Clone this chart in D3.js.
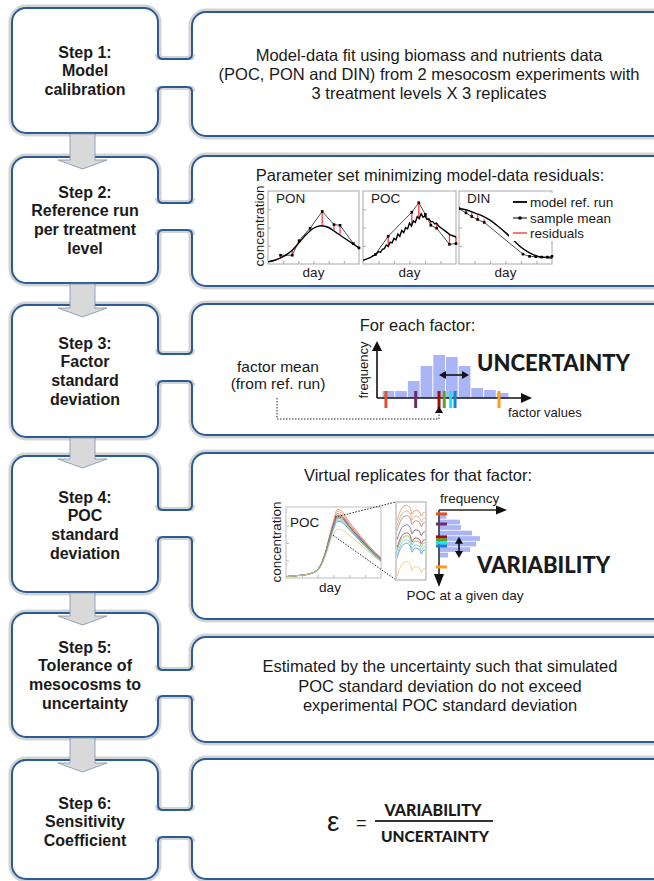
<!DOCTYPE html>
<html>
<head>
<meta charset="utf-8">
<script src="https://cdn.jsdelivr.net/npm/d3@7/dist/d3.min.js"></script>
<style>
  html, body { margin: 0; padding: 0; background: #fff; }
  svg { display: block; }
  text { font-family: "Liberation Sans", Arial, sans-serif; fill: #1a1a1a; }
  .heavy { font-family: Lato, "Open Sans", sans-serif; font-weight: 900; }
</style>
</head>
<body>
<svg id="chart" width="654" height="881"></svg>
<script>
// ---------- text content ----------
const stepLabels = [
  ["Step 1:", "Model", "calibration"],
  ["Step 2:", "Reference run", "per treatment", "level"],
  ["Step 3:", "Factor", "standard", "deviation"],
  ["Step 4:", "POC", "standard", "deviation"],
  ["Step 5:", "Tolerance of", "mesocosms to", "uncertainty"],
  ["Step 6:", "Sensitivity", "Coefficient"]
];
const calibrationLines = [
  "Model-data fit using biomass and nutrients data",
  "(POC, PON and DIN) from 2 mesocosm experiments with",
  "3 treatment levels X 3 replicates"
];
const fitTitle = "Parameter set minimizing model-data residuals:";
const factorTitle = "For each factor:";
const factorMeanLines = ["factor mean", "(from ref. run)"];
const replicateTitle = "Virtual replicates for that factor:";
const toleranceLines = [
  "Estimated by the uncertainty such that simulated",
  "POC standard deviation do not exceed",
  "experimental POC standard deviation"
];
const legendItems = ["model ref. run", "sample mean", "residuals"];

// ---------- step 2: reference run vs. sample means ----------
const fitDays = [0, 2, 4, 6, 8, 10, 12, 14, 16, 18, 20, 22, 24];
const ponModel = [0.3, 0.55, 1.0, 1.7, 2.8, 4.0, 4.9, 5.25, 5.0, 4.3, 3.6, 2.9, 2.2];
const dinModel = [7.6, 7.4, 7.0, 6.6, 6.0, 5.2, 4.3, 3.3, 2.3, 1.6, 1.1, 0.9, 0.8];
// POC reference run, every half day from day 0 to day 24
const pocModel = [0.5, 0.6, 0.7, 0.8, 0.9, 1.1, 1.2, 1.4, 1.7, 1.6,
  2.0, 2.1, 2.6, 2.4, 3.0, 2.9, 3.5, 3.3, 4.1, 3.8,
  4.6, 4.3, 5.0, 4.8, 5.6, 5.2, 5.9, 5.7, 6.5, 6.2,
  6.9, 6.4, 6.6, 6.1, 6.2, 5.8, 5.8, 5.5, 5.6, 5.2,
  5.0, 4.8, 4.6, 4.4, 4.2, 4.0, 3.9, 3.8, 3.7];

const ponSampleDays = [3.3, 6.4, 8.2, 11.1, 14.3, 17.4, 19.0, 22.5, 24];
const ponSampleMean = [1.2, 1.2, 3.2, 4.9, 7.2, 5.4, 5.3, 2.8, 2.2];
const ponModelAtSample = [0.8, 1.85, 2.9, 4.5, 5.25, 4.7, 4.0, 2.75, 2.2];

const pocSampleDays = [3.2, 6.5, 12.6, 14.4, 16.1, 17.5, 19.0, 22.3, 24];
const pocSampleMean = [1.3, 3.8, 7.1, 8.4, 6.8, 5.3, 4.9, 2.7, 2.8];
const pocModelAtSample = [1.3, 2.35, 5.4, 6.3, 6.5, 5.8, 5.6, 4.1, 3.7];

const dinSampleDays = [0, 1.8, 3.3, 4.8, 6.5, 16.5, 18.2, 19.8, 21.3, 22.8, 24];
const dinSampleMean = [7.6, 7.0, 6.5, 6.1, 5.7, 1.35, 1.05, 1.0, 0.95, 0.95, 1.05];
const dinModelAtSample = [7.6, 7.4, 7.1, 6.7, 6.1, 1.5, 1.05, 0.92, 0.86, 0.82, 0.8];

// ---------- step 3: factor distribution ----------
const factorBinEdges = [0, 1, 2, 3, 4, 5, 6, 7, 8, 9, 10];
const factorBinCounts = [7, 7, 17, 32, 43, 41, 32, 10, 8, 5];
const factorValues = [0.31, 2.65, 4.49, 4.90, 5.41, 5.75, 9.21];
const factorColors = ["#e0522c", "#6c2f63", "#a30d12", "#5b9f24", "#16e0ee", "#1c7fcf", "#ff9c1c"];
const factorMean = 4.49;
const factorSpread = [4.49, 6.85];

// ---------- step 4: virtual replicates ----------
const replicateDays = [0, 2, 4, 6, 8, 10, 11, 12, 13, 14, 16, 18, 20, 22, 24];
const replicateSeries = [
  [0.2, 0.3, 0.4, 0.6, 1.2, 3.8, 6.0, 8.2, 9.8, 9.6, 8.0, 6.6, 5.2, 4.0, 2.9],
  [0.2, 0.3, 0.4, 0.6, 1.2, 3.7, 5.9, 8.0, 9.5, 9.3, 7.8, 6.4, 5.1, 3.9, 2.8],
  [0.2, 0.3, 0.4, 0.6, 1.2, 3.7, 5.8, 7.8, 9.2, 9.0, 7.6, 6.3, 5.0, 3.8, 2.8],
  [0.2, 0.3, 0.4, 0.6, 1.2, 3.6, 5.7, 7.6, 8.9, 8.8, 7.4, 6.1, 4.9, 3.7, 2.7],
  [0.2, 0.3, 0.4, 0.6, 1.2, 3.6, 5.6, 7.5, 8.7, 8.6, 7.3, 6.0, 4.8, 3.6, 2.6],
  [0.2, 0.3, 0.4, 0.6, 1.2, 3.5, 5.5, 7.4, 8.5, 8.4, 7.2, 5.9, 4.7, 3.6, 2.6],
  [0.2, 0.3, 0.4, 0.6, 1.1, 3.5, 5.4, 7.2, 8.3, 8.2, 7.0, 5.8, 4.6, 3.5, 2.5],
  [0.2, 0.3, 0.4, 0.6, 1.1, 3.4, 5.3, 7.0, 8.1, 8.0, 6.9, 5.7, 4.5, 3.4, 2.4],
  [0.2, 0.3, 0.4, 0.6, 1.1, 3.2, 4.9, 6.3, 7.0, 6.9, 6.1, 5.2, 4.2, 3.2, 2.3]
];
const replicateColors = ["#e58a68", "#dfa582", "#b87d6c", "#7d4a78", "#a8323e",
  "#86b84e", "#5cc9e0", "#4f94d2", "#f3c36b"];
// close-up around the POC peak (position across the window, 0 to 1)
const zoomPositions = [0, 0.1, 0.22, 0.38, 0.47, 0.54, 0.60, 0.70, 0.80, 0.87, 0.93, 1.0];
const zoomSeries = [
  [9.20, 9.55, 9.79, 9.85, 9.73, 9.46, 9.60, 9.63, 9.57, 9.38, 9.52, 9.56],
  [8.95, 9.30, 9.54, 9.60, 9.48, 9.21, 9.35, 9.38, 9.32, 9.13, 9.27, 9.31],
  [8.75, 9.10, 9.34, 9.40, 9.28, 9.01, 9.15, 9.18, 9.12, 8.93, 9.07, 9.11],
  [8.35, 8.70, 8.94, 9.00, 8.88, 8.61, 8.75, 8.78, 8.72, 8.53, 8.67, 8.71],
  [8.00, 8.35, 8.59, 8.65, 8.53, 8.26, 8.40, 8.43, 8.37, 8.18, 8.32, 8.36],
  [7.87, 8.22, 8.46, 8.52, 8.40, 8.13, 8.27, 8.30, 8.24, 8.05, 8.19, 8.23],
  [7.70, 8.05, 8.29, 8.35, 8.23, 7.96, 8.10, 8.13, 8.07, 7.88, 8.02, 8.06],
  [7.55, 7.90, 8.14, 8.20, 8.08, 7.81, 7.95, 7.98, 7.92, 7.73, 7.87, 7.91],
  [6.75, 7.10, 7.34, 7.40, 7.28, 7.01, 7.15, 7.18, 7.12, 6.93, 7.07, 7.11]
];
const zoomWindow = [[12.4, 8.7], [11.9, 6.1]];   // (day, POC) where the close-up is taken
const pocAtDay = [9.48, 9.04, 8.48, 8.35, 8.22, 8.08, 7.17];
const pocBinEdges = [9.47, 9.23, 8.99, 8.75, 8.51, 8.27, 8.03, 7.79, 7.55];
const pocBinCounts = [7, 21, 22, 33, 41, 37, 31, 9];
const pocSpread = [8.48, 7.56];

// ---------- layout ----------
const BLUE = "#2a5b97", HALO = "#d3d3d3", BAR = "#aab5f5", FRAME = "#a8a8a8";
const L = {
  leftX: [12, 158], rightX: [192, 668],
  leftY: [[8, 133], [157, 283], [305, 437], [456, 592], [613, 737], [760, 879]],
  rightY: [[12, 136], [156, 286], [304, 435], [453, 619], [637, 742], [759, 879]],
  linkY: [[59, 87], [203, 230], [354, 381], [510, 537], [670, 696], [810, 837]],
  labelTop: [52, 192, 343, 497, 647, 803],
  lineGap: 18.8
};

const svg = d3.select("#chart");
const gBoxes = svg.append("g");

function roundBox(x0, y0, x1, y1, r) {
  gBoxes.append("rect").attr("x", x0 - 1.5).attr("y", y0 - 1.5)
    .attr("width", x1 - x0 + 3).attr("height", y1 - y0 + 3).attr("rx", r + 1.5)
    .attr("fill", "none").attr("stroke", HALO).attr("stroke-width", 4);
  gBoxes.append("rect").attr("x", x0).attr("y", y0)
    .attr("width", x1 - x0).attr("height", y1 - y0).attr("rx", r)
    .attr("fill", "#fff").attr("stroke", BLUE).attr("stroke-width", 2);
}
L.leftY.forEach(([a, b]) => roundBox(L.leftX[0], a, L.leftX[1], b, 14));
L.rightY.forEach(([a, b]) => roundBox(L.rightX[0], a, L.rightX[1], b, 14));

// joints between step box and its description box
L.linkY.forEach(([a, b]) => {
  const lx = L.leftX[1], rx = L.rightX[0], r = 5;
  const top = `M${lx},${a - r}Q${lx},${a} ${lx + r},${a}H${rx - r}Q${rx},${a} ${rx},${a - r}`;
  const bot = `M${lx},${b + r}Q${lx},${b} ${lx + r},${b}H${rx - r}Q${rx},${b} ${rx},${b + r}`;
  [top, bot].forEach(d => gBoxes.append("path").attr("d", d).attr("fill", "none")
    .attr("stroke", HALO).attr("stroke-width", 6));
  gBoxes.append("rect").attr("x", lx - 2).attr("y", a + 1)
    .attr("width", rx - lx + 4).attr("height", b - a - 2).attr("fill", "#fff");
  [top, bot].forEach(d => gBoxes.append("path").attr("d", d).attr("fill", "none")
    .attr("stroke", BLUE).attr("stroke-width", 2));
});

// block arrows between consecutive steps
for (let i = 0; i < L.leftY.length - 1; i++) {
  const y0 = L.leftY[i][1] + 1, nextTop = L.leftY[i + 1][0];
  const base = nextTop + 3, tip = nextTop + 12;
  const pts = [[70, y0], [95, y0], [95, base], [107, base], [82.5, tip], [58, base], [70, base]];
  gBoxes.append("path").attr("d", d3.line()(pts) + "Z")
    .attr("fill", "#d9d9d9").attr("stroke", "#7d8fa8").attr("stroke-width", 0.8);
}

// step labels
stepLabels.forEach((lines, i) => {
  const t = svg.append("text").attr("text-anchor", "middle")
    .attr("font-weight", "bold").attr("font-size", 16);
  lines.forEach((s, j) => t.append("tspan").attr("x", 85)
    .attr("y", L.labelTop[i] + j * L.lineGap + 5.6).text(s));
});

function textLines(lines, cx, cy0, gap, size, anchor) {
  const t = svg.append("text").attr("text-anchor", anchor || "middle").attr("font-size", size);
  lines.forEach((s, j) => t.append("tspan").attr("x", cx)
    .attr("y", cy0 + j * gap + size * 0.35).text(s));
  return t;
}

function triangle(tip, dir, len, half) {
  const [x, y] = tip;
  let pts;
  if (dir === "up") pts = [[x, y], [x - half, y + len], [x + half, y + len]];
  if (dir === "down") pts = [[x, y], [x - half, y - len], [x + half, y - len]];
  if (dir === "right") pts = [[x, y], [x - len, y - half], [x - len, y + half]];
  if (dir === "left") pts = [[x, y], [x + len, y - half], [x + len, y + half]];
  svg.append("path").attr("d", d3.line()(pts) + "Z").attr("fill", "#111");
}

// ---------- step 1 ----------
textLines(calibrationLines, 429, 55, 19, 16.5);

// ---------- step 2 ----------
textLines([fitTitle], 430, 175, 0, 16.5);

const pocHalfDays = d3.range(0, 24.001, 0.5);
const panels = [
  { label: "PON", x0: 268, x1: 359, days: fitDays, model: ponModel, curve: d3.curveMonotoneX,
    sd: ponSampleDays, sv: ponSampleMean, sm: ponModelAtSample },
  { label: "POC", x0: 363, x1: 456, days: pocHalfDays, model: pocModel, curve: d3.curveLinear,
    sd: pocSampleDays, sv: pocSampleMean, sm: pocModelAtSample },
  { label: "DIN", x0: 459, x1: 552, days: fitDays, model: dinModel, curve: d3.curveMonotoneX,
    sd: dinSampleDays, sv: dinSampleMean, sm: dinModelAtSample }
];
const pTop = 191, pBot = 264;
panels.forEach((p, k) => {
  const x = d3.scaleLinear().domain([0, 24]).range([p.x0, p.x1]);
  const y = d3.scaleLinear().domain([0, 10]).range([pBot, pTop]);
  const g = svg.append("g");
  g.append("rect").attr("x", p.x0).attr("y", pTop).attr("width", p.x1 - p.x0)
    .attr("height", pBot - pTop).attr("fill", "#fff").attr("stroke", FRAME).attr("stroke-width", 1);
  const ay = g.append("g").attr("transform", `translate(${p.x0},0)`)
    .call(d3.axisLeft(y).tickValues([2.5, 5, 7.5]).tickSize(-3).tickFormat(""));
  const ax = g.append("g").attr("transform", `translate(0,${pBot})`)
    .call(d3.axisBottom(x).tickValues([4, 8, 12, 16, 20]).tickSize(-3).tickFormat(""));
  [ay, ax].forEach(a => { a.select(".domain").remove(); a.selectAll("line").attr("stroke", "#aaa"); });

  const clipId = "clip" + k;
  svg.append("clipPath").attr("id", clipId).append("rect")
    .attr("x", p.x0).attr("y", pTop - 2).attr("width", p.x1 - p.x0 + 6).attr("height", pBot - pTop + 4);
  const gc = g.append("g").attr("clip-path", `url(#${clipId})`);

  gc.selectAll(".res").data(p.sd).join("line")
    .attr("x1", d => x(d)).attr("x2", d => x(d))
    .attr("y1", (d, i) => y(p.sv[i])).attr("y2", (d, i) => y(p.sm[i]))
    .attr("stroke", "#ff3d3d").attr("stroke-width", 1.3);
  gc.append("path").datum(p.model.map((v, i) => [p.days[i], v]))
    .attr("d", d3.line().x(d => x(d[0])).y(d => y(d[1])).curve(p.curve))
    .attr("fill", "none").attr("stroke", "#000").attr("stroke-width", 1.4);
  gc.append("path").datum(p.sv.map((v, i) => [p.sd[i], v]))
    .attr("d", d3.line().x(d => x(d[0])).y(d => y(d[1])))
    .attr("fill", "none").attr("stroke", "#000").attr("stroke-width", 0.7);
  gc.selectAll(".pt").data(p.sv).join("rect")
    .attr("x", (d, i) => x(p.sd[i]) - 1.3).attr("y", d => y(d) - 1.3)
    .attr("width", 2.6).attr("height", 2.6).attr("fill", "#000");

  svg.append("text").attr("x", p.x0 + 8).attr("y", 198 + 13.5 * 0.35)
    .attr("font-size", 13.5).text(p.label);
  svg.append("text").attr("x", (p.x0 + p.x1) / 2).attr("y", 272 + 13.5 * 0.35)
    .attr("text-anchor", "middle").attr("font-size", 13.5).text("day");
});
svg.append("text").attr("transform", "translate(259,226) rotate(-90)")
  .attr("text-anchor", "middle").attr("dy", "0.35em").attr("font-size", 13.5).text("concentration");

// legend
svg.append("rect").attr("x", 509).attr("y", 193).attr("width", 108).attr("height", 48).attr("fill", "#fff");
legendItems.forEach((s, i) => {
  const yy = [202, 218, 233][i];
  const col = i === 2 ? "#ff3d3d" : "#000";
  svg.append("line").attr("x1", 513).attr("x2", 527).attr("y1", yy).attr("y2", yy)
    .attr("stroke", col).attr("stroke-width", i === 0 ? 1.8 : (i === 1 ? 1 : 1.4));
  if (i === 1) svg.append("rect").attr("x", 518.5).attr("y", yy - 1.5).attr("width", 3).attr("height", 3).attr("fill", "#000");
  svg.append("text").attr("x", 530).attr("y", yy + 13.5 * 0.35).attr("font-size", 13.5).text(s);
});

// ---------- step 3 ----------
textLines([factorTitle], 417.5, 325, 0, 16.5);
textLines(factorMeanLines, 278, 367, 17, 15.5);

const fx = d3.scaleLinear().domain([0, 10]).range([382, 509]);
const fy = d3.scaleLinear().domain([0, 50]).range([398, 348]);
svg.append("g").selectAll("rect").data(factorBinCounts).join("rect")
  .attr("x", (d, i) => fx(factorBinEdges[i]) + 0.5)
  .attr("width", (d, i) => fx(factorBinEdges[i + 1]) - fx(factorBinEdges[i]) - 1)
  .attr("y", d => fy(d)).attr("height", d => fy(0) - fy(d)).attr("fill", BAR);
// axes
svg.append("line").attr("x1", 377).attr("x2", 377).attr("y1", fy(0)).attr("y2", 350)
  .attr("stroke", "#111").attr("stroke-width", 1.6);
triangle([377, 341], "up", 10, 5);
svg.append("line").attr("x1", 377).attr("x2", 522).attr("y1", fy(0)).attr("y2", fy(0))
  .attr("stroke", "#111").attr("stroke-width", 1.6);
triangle([532, fy(0)], "right", 11, 5);
svg.append("text").attr("transform", "translate(363,370) rotate(-90)")
  .attr("text-anchor", "middle").attr("dy", "0.35em").attr("font-size", 13).text("frequency");
svg.append("text").attr("x", 508).attr("y", 412 + 13 * 0.35).attr("font-size", 13).text("factor values");
// factor values of the replicates
svg.append("g").selectAll("rect").data(factorValues).join("rect")
  .attr("x", d => fx(d) - 1.5).attr("width", 3).attr("y", 391).attr("height", 17)
  .attr("fill", (d, i) => factorColors[i]);
// factor mean pointer
svg.append("path")
  .attr("d", d3.line()([[277, 398], [277, 419], [fx(factorMean), 419], [fx(factorMean), 413]]))
  .attr("fill", "none").attr("stroke", "#222").attr("stroke-width", 1).attr("stroke-dasharray", "1.5,1.5");
triangle([fx(factorMean), 406], "up", 7, 4);
// uncertainty span
svg.append("line").attr("x1", fx(factorSpread[0]) + 4).attr("x2", fx(factorSpread[1]) - 4)
  .attr("y1", 375).attr("y2", 375).attr("stroke", "#111").attr("stroke-width", 1.6);
triangle([fx(factorSpread[0]), 375], "left", 7, 4);
triangle([fx(factorSpread[1]), 375], "right", 7, 4);
svg.append("text").attr("class", "heavy").attr("x", 477).attr("y", 363 + 22 * 0.36)
  .attr("font-size", 22).text("UNCERTAINTY");

// ---------- step 4 ----------
textLines([replicateTitle], 418, 475, 0, 16.5);

const rxs = d3.scaleLinear().domain([0, 24]).range([286, 381]);
const rys = d3.scaleLinear().domain([0, 10]).range([578, 508]);
svg.append("rect").attr("x", 286).attr("y", 507).attr("width", 95).attr("height", 71)
  .attr("fill", "#fff").attr("stroke", "#bdbdbd").attr("stroke-width", 1);
{
  const ay = svg.append("g").attr("transform", "translate(286,0)")
    .call(d3.axisLeft(rys).tickValues([2.5, 5, 7.5]).tickSize(-3).tickFormat(""));
  const ax = svg.append("g").attr("transform", "translate(0,578)")
    .call(d3.axisBottom(rxs).tickValues([4, 8, 12, 16, 20]).tickSize(-3).tickFormat(""));
  [ay, ax].forEach(a => { a.select(".domain").remove(); a.selectAll("line").attr("stroke", "#bbb"); });
}
svg.append("clipPath").attr("id", "clipRep").append("rect")
  .attr("x", 286).attr("y", 507).attr("width", 95).attr("height", 71);
const gRep = svg.append("g").attr("clip-path", "url(#clipRep)");
replicateSeries.forEach((s, i) => {
  gRep.append("path").datum(s.map((v, j) => [replicateDays[j], v]))
    .attr("d", d3.line().x(d => rxs(d[0])).y(d => rys(d[1])).curve(d3.curveMonotoneX))
    .attr("fill", "none").attr("stroke", replicateColors[i]).attr("stroke-width", 1).attr("opacity", 0.85);
});
svg.append("text").attr("x", 290).attr("y", 522 + 13.5 * 0.35).attr("font-size", 13.5).text("POC");
svg.append("text").attr("x", 330).attr("y", 587 + 13.5 * 0.35).attr("text-anchor", "middle")
  .attr("font-size", 13.5).text("day");
svg.append("text").attr("transform", "translate(276,542) rotate(-90)")
  .attr("text-anchor", "middle").attr("dy", "0.35em").attr("font-size", 13.5).text("concentration");

// close-up window
const zxs = d3.scaleLinear().domain([0, 1]).range([397, 425]);
const zys = d3.scaleLinear().domain([6.6, 10]).range([580, 502]);
svg.append("path").attr("d", d3.line()([[rxs(zoomWindow[0][0]), rys(zoomWindow[0][1])], [396, 502]]))
  .attr("stroke", "#222").attr("stroke-width", 1).attr("stroke-dasharray", "1.5,1.5");
svg.append("path").attr("d", d3.line()([[rxs(zoomWindow[1][0]), rys(zoomWindow[1][1])], [396, 580]]))
  .attr("stroke", "#222").attr("stroke-width", 1).attr("stroke-dasharray", "1.5,1.5");
svg.append("rect").attr("x", 396).attr("y", 502).attr("width", 30).attr("height", 78)
  .attr("fill", "#fff").attr("stroke", "#c2c2c2").attr("stroke-width", 1.5);
svg.append("clipPath").attr("id", "clipZoom").append("rect")
  .attr("x", 397).attr("y", 503).attr("width", 28).attr("height", 76);
const gZoom = svg.append("g").attr("clip-path", "url(#clipZoom)");
zoomSeries.forEach((s, i) => {
  gZoom.append("path").datum(s.map((v, j) => [zoomPositions[j], v]))
    .attr("d", d3.line().x(d => zxs(d[0])).y(d => zys(d[1])).curve(d3.curveCatmullRom.alpha(0.5)))
    .attr("fill", "none").attr("stroke", replicateColors[i]).attr("stroke-width", 1).attr("opacity", 0.85);
});

// POC distribution at a given day
const hx = d3.scaleLinear().domain([0, 50]).range([439, 489]);
svg.append("g").selectAll("rect").data(pocBinCounts).join("rect")
  .attr("x", hx(0)).attr("width", d => hx(d) - hx(0))
  .attr("y", (d, i) => zys(pocBinEdges[i]))
  .attr("height", (d, i) => zys(pocBinEdges[i + 1]) - zys(pocBinEdges[i]) - 0.8)
  .attr("fill", BAR);
svg.append("line").attr("x1", 439).attr("x2", 497).attr("y1", 510).attr("y2", 510)
  .attr("stroke", "#222").attr("stroke-width", 1.6);
triangle([507, 510], "right", 11, 4.5);
svg.append("line").attr("x1", 439).attr("x2", 439).attr("y1", 510).attr("y2", 576)
  .attr("stroke", "#555").attr("stroke-width", 2);
triangle([439, 587], "down", 13, 5);
svg.append("g").selectAll("rect").data(pocAtDay).join("rect")
  .attr("x", 436).attr("width", 11).attr("y", d => zys(d) - 1.5).attr("height", 3)
  .attr("fill", (d, i) => factorColors[i]);
svg.append("text").attr("x", 440).attr("y", 498 + 13.5 * 0.35).attr("font-size", 13.5).text("frequency");
svg.append("text").attr("x", 465).attr("y", 595 + 13.5 * 0.35).attr("text-anchor", "middle")
  .attr("font-size", 13.5).text("POC at a given day");
// variability span
svg.append("line").attr("x1", 459).attr("x2", 459)
  .attr("y1", zys(pocSpread[0]) + 4).attr("y2", zys(pocSpread[1]) - 4)
  .attr("stroke", "#111").attr("stroke-width", 1.6);
triangle([459, zys(pocSpread[0])], "up", 7, 4);
triangle([459, zys(pocSpread[1])], "down", 7, 4);
svg.append("text").attr("class", "heavy").attr("x", 477).attr("y", 565 + 22 * 0.36)
  .attr("font-size", 22).text("VARIABILITY");

// ---------- step 5 ----------
textLines(toleranceLines, 440, 666.5, 19.5, 16.5);

// ---------- step 6 ----------
svg.append("text").attr("x", 327).attr("y", 831).attr("font-family", "DejaVu Sans")
  .attr("font-size", 28).text("ε");
svg.append("text").attr("x", 356).attr("y", 829).attr("font-size", 18).text("=");
svg.append("line").attr("x1", 375).attr("x2", 493).attr("y1", 821).attr("y2", 821)
  .attr("stroke", "#333").attr("stroke-width", 2);
svg.append("text").attr("class", "heavy").attr("x", 433).attr("y", 810 + 16 * 0.36)
  .attr("text-anchor", "middle").attr("font-size", 16).text("VARIABILITY");
svg.append("text").attr("class", "heavy").attr("x", 435).attr("y", 836 + 15.5 * 0.36)
  .attr("text-anchor", "middle").attr("font-size", 15.5).text("UNCERTAINTY");
</script>
</body>
</html>
